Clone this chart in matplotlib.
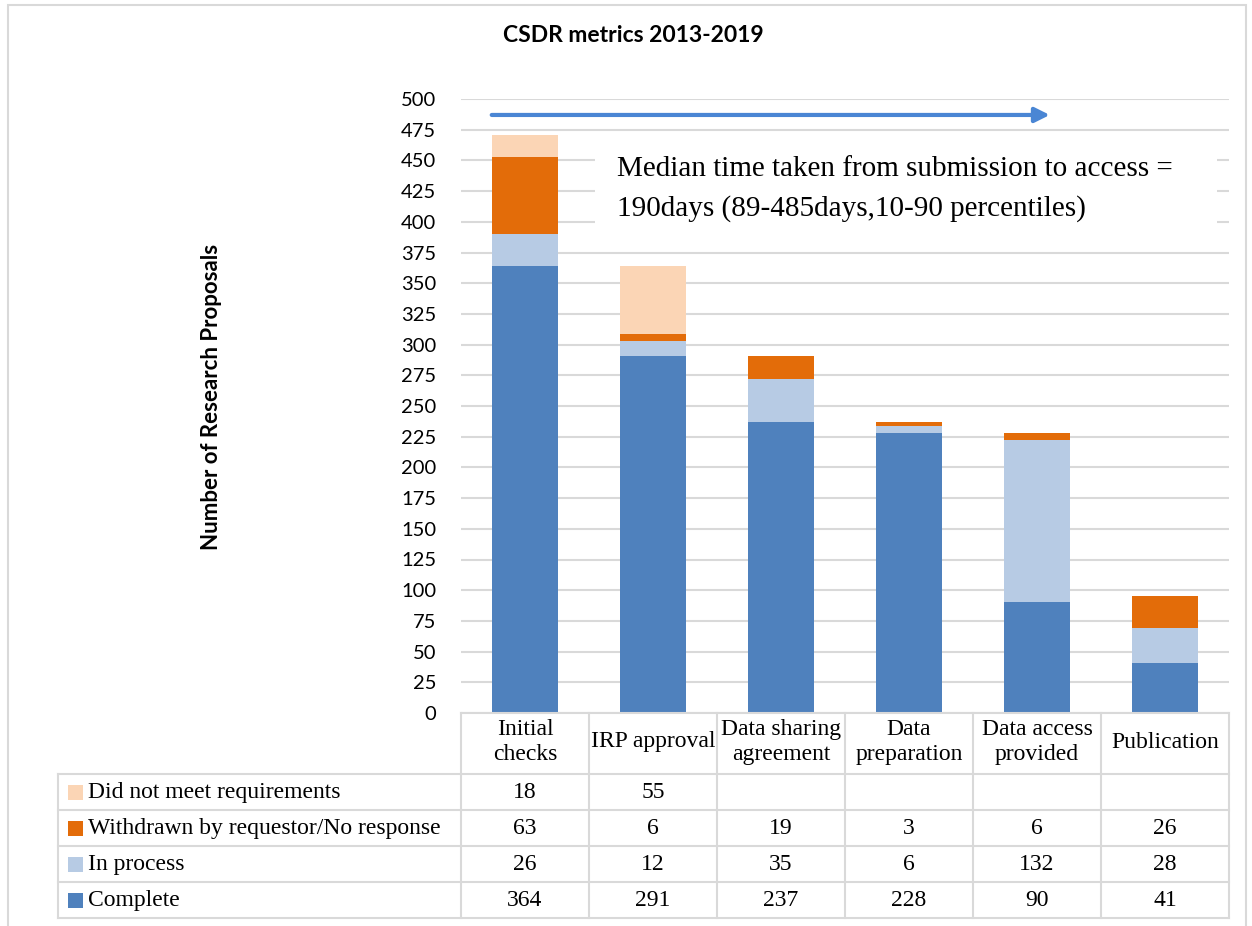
import matplotlib.pyplot as plt
import matplotlib.transforms as mtransforms
from matplotlib.patches import Rectangle
import numpy as np

# dados
etapas = ['Initial\nchecks', 'IRP approval', 'Data sharing\nagreement', 'Data\npreparation',
          'Data access\nprovided', 'Publication']
complete = [364, 291, 237, 228, 90, 41]
in_process = [26, 12, 35, 6, 132, 28]
withdrawn = [63, 6, 19, 3, 6, 26]
did_not_meet = [18, 55, 0, 0, 0, 0]

series_names = ['Complete', 'In process', 'Withdrawn by requestor/No response', 'Did not meet requirements']
series_vals = [complete, in_process, withdrawn, did_not_meet]
cores = ['#4f81bd', '#b7cbe4', '#e36c09', '#fbd5b5']

W, H = 1252, 926
SANS = ['Lato', 'DejaVu Sans']
SERIF = ['Liberation Serif', 'DejaVu Serif']
GRID = '#d9d9d9'
FS_TAB = 17


def fx(px):
    return px / W


def fy(py):
    return 1 - py / H


fig = plt.figure(figsize=(W / 100, H / 100), dpi=100)
ax = fig.add_axes([fx(461), fy(713), fx(1229 - 461), (713 - 99) / H])

x = np.arange(len(etapas))
base = np.zeros(len(etapas))
for nome, vals, cor in zip(series_names, series_vals, cores):
    ax.bar(x, vals, bottom=base, width=0.52, color=cor, zorder=2)
    base += np.array(vals)

ax.set_xlim(-0.5, len(etapas) - 0.5)
ax.set_ylim(0, 500)
ax.set_yticks(range(0, 501, 25))
ax.set_xticks([])
ax.tick_params(axis='y', length=0, pad=18, labelsize=14.5)
for lbl in ax.get_yticklabels():
    lbl.set_family(SANS)
ax.yaxis.grid(True, color=GRID, lw=1.5)
ax.set_axisbelow(True)
for s in ax.spines.values():
    s.set_visible(False)

# caixa de texto (mediana)
ax.add_patch(Rectangle((0.55, 385), 4.86, 82, facecolor='white', edgecolor='none', zorder=1))
ax.text(0.72, 426.5, 'Median time taken from submission to access =\n190days (89-485days,10-90 percentiles)',
        family=SERIF, fontsize=21, va='center', ha='left', linespacing=1.65, zorder=3)

# seta
ax.annotate('', xy=(4.1, 487), xytext=(-0.26, 487),
            arrowprops=dict(arrowstyle='-|>', color='#4a86d4', lw=3, mutation_scale=22, shrinkA=0, shrinkB=0))

# titulo e rotulo
fig.text(fx(633), fy(36), 'CSDR metrics 2013-2019', family=SANS, fontweight='bold', fontsize=16.5,
         ha='center', va='center')
fig.text(fx(212), fy(397), 'Number of Research Proposals', family=SANS, fontweight='bold', fontsize=16,
         rotation=90, ha='center', va='center')

# tabela de dados
trans = mtransforms.blended_transform_factory(ax.transData, fig.transFigure)
linhas_y = [713, 774, 810, 846, 882, 918]
for i in range(len(etapas) + 1):
    fig.add_artist(plt.Line2D([i - 0.5, i - 0.5], [fy(713), fy(918)], transform=trans, color=GRID, lw=1.5))
fig.add_artist(plt.Line2D([fx(58), fx(58)], [fy(774), fy(918)], color=GRID, lw=1.5))
for j, yy in enumerate(linhas_y):
    x0 = fx(461) if j == 0 else fx(58)
    fig.add_artist(plt.Line2D([x0, fx(1229)], [fy(yy), fy(yy)], color=GRID, lw=1.5))

for i, et in enumerate(etapas):
    fig.text(i, fy(742), et, transform=trans, family=SERIF, fontsize=FS_TAB, ha='center', va='center',
             linespacing=1.3)

ordem = list(range(len(series_names)))[::-1]
for r, k in enumerate(ordem):
    yc = (linhas_y[r + 1] + linhas_y[r + 2]) / 2
    fig.add_artist(Rectangle((fx(68), fy(yc + 8)), fx(15), 15 / H, facecolor=cores[k], edgecolor='none',
                             transform=fig.transFigure))
    fig.text(fx(88), fy(yc + 6), series_names[k], family=SERIF, fontsize=FS_TAB, ha='left',
             va='baseline')
    for i, v in enumerate(series_vals[k]):
        if v:
            fig.text(i, fy(yc + 6), str(v), transform=trans, family=SERIF, fontsize=FS_TAB, ha='center',
                     va='baseline')

# borda externa
fig.add_artist(Rectangle((fx(8), fy(940)), fx(1238), (940 - 5) / H, facecolor='none', edgecolor=GRID,
                         lw=1.5, transform=fig.transFigure))

plt.savefig('out.png', dpi=100)
